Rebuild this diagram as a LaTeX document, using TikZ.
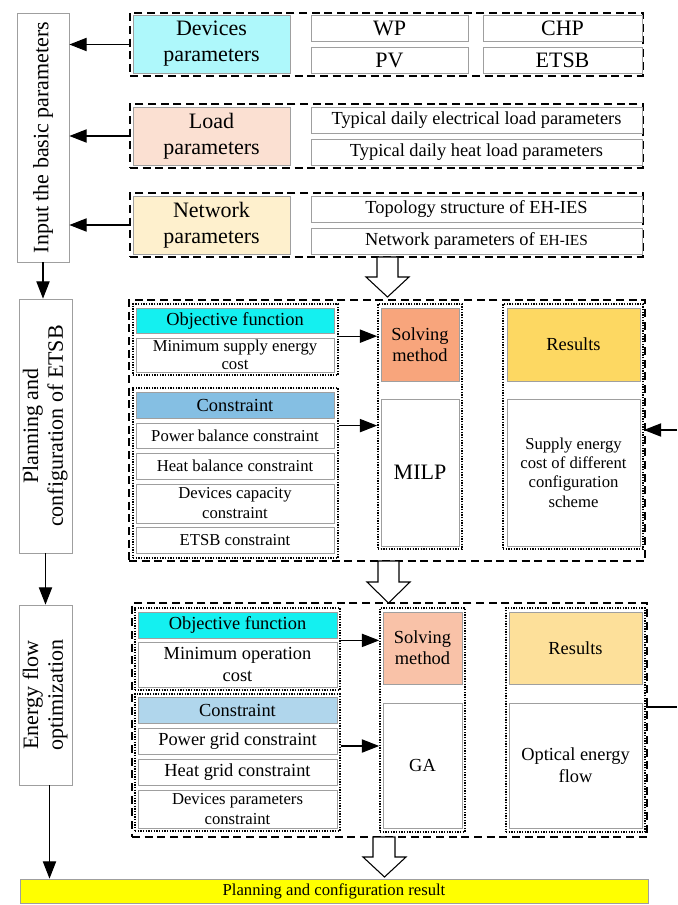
\documentclass[tikz,border=0pt]{standalone}
\usepackage{fontspec}
\usepackage{graphicx}
\setmainfont{Liberation Serif}
\usetikzlibrary{arrows.meta,calc}

\definecolor{devcol}{HTML}{AEF8FB}
\definecolor{loadcol}{HTML}{FBE0D2}
\definecolor{netcol}{HTML}{FEF0CD}
\definecolor{objcol}{HTML}{14F0F0}
\definecolor{conAcol}{HTML}{85BFE3}
\definecolor{conBcol}{HTML}{B0D6EC}
\definecolor{solAcol}{HTML}{F8A57C}
\definecolor{solBcol}{HTML}{F9C2A8}
\definecolor{resAcol}{HTML}{FDD862}
\definecolor{resBcol}{HTML}{FDE09A}
\definecolor{finalcol}{HTML}{FFFF00}

\newcommand\fbig{\fontsize{16.5}{19.5}\selectfont}
\newcommand\fmid{\fontsize{13.8}{16}\selectfont}
\newcommand\fsml{\fontsize{12.5}{14}\selectfont}

% box given by its corners in pixel units: name, style, x1, y1, x2, y2, text
\newcommand\mkbox[7]{%
  \node[#2, minimum width={(#5-#3)*0.75pt}, minimum height={(#6-#4)*0.75pt}]
    (#1) at ({(#3+#5)/2},{(#4+#6)/2}) {#7};}

\begin{document}
\begin{tikzpicture}[x=0.75pt,y=-0.75pt,
  ibox/.style={draw=gray!75, line width=0.6pt, fill=white, inner sep=0pt, align=center, font=\fmid},
  grp/.style={draw=black, line width=1.4pt, dash pattern=on 6pt off 3.5pt, inner sep=0pt},
  dgrp/.style={draw=black, line width=1.3pt, dash pattern=on 1.1pt off 0.9pt, inner sep=0pt},
  arr/.style={-{Triangle[length=13pt,width=10pt]}, line width=0.8pt},
  blk/.style={draw=black, line width=0.8pt, fill=white, line join=miter}]

\useasboundingbox (0,0) rectangle (677,905);

% ---------- left column of stages ----------
\mkbox{in1}{ibox}{17}{13}{69}{262}{\rotatebox{90}{\fbig Input the basic parameters}}
\mkbox{pc1}{ibox}{19}{299}{72}{553}{\rotatebox{90}{\fbig\renewcommand\arraystretch{0.95}\begin{tabular}{@{}c@{}}Planning and\\configuration of ETSB\end{tabular}}}
\mkbox{eo1}{ibox}{19}{605}{72}{785}{\rotatebox{90}{\fbig\renewcommand\arraystretch{0.95}\begin{tabular}{@{}c@{}}Energy flow\\optimization\end{tabular}}}
\mkbox{res}{ibox, fill=finalcol, font=\fsml}{20}{879}{648}{903}{Planning and configuration result}

\draw[arr] (in1.south) -- (in1.south |- pc1.north);
\draw[arr] (pc1.south) -- (pc1.south |- eo1.north);
\draw[arr] ([xshift=3pt]eo1.south) -- ([xshift=3pt]eo1.south |- res.north);

% ---------- basic parameters ----------
\mkbox{g1}{grp}{130}{13}{643}{76}{}
\mkbox{devp}{ibox, fill=devcol, font=\fbig}{133}{15}{290}{73}{Devices\\parameters}
\mkbox{wp}{ibox, font=\fbig}{311}{15}{468}{41}{WP}
\mkbox{pv}{ibox, font=\fbig}{311}{47}{468}{73}{PV}
\mkbox{chp}{ibox, font=\fbig}{483}{15}{642}{41}{CHP}
\mkbox{etsb}{ibox, font=\fbig}{483}{47}{642}{73}{ETSB}

\mkbox{g2}{grp}{130}{104}{643}{168}{}
\mkbox{loadp}{ibox, fill=loadcol, font=\fbig}{133}{107}{290}{165}{Load\\parameters}
\mkbox{elp}{ibox}{311}{107}{642}{133}{Typical daily electrical load parameters}
\mkbox{hlp}{ibox}{311}{139}{642}{165}{Typical daily heat load parameters}

\mkbox{g3}{grp}{130}{193}{643}{257}{}
\mkbox{netp}{ibox, fill=netcol, font=\fbig}{133}{196}{290}{254}{Network\\parameters}
\mkbox{topo}{ibox}{311}{196}{642}{222}{Topology structure of EH-IES}
\mkbox{netw}{ibox}{311}{228}{642}{254}{Network parameters of {\fontsize{11.5}{12}\selectfont EH-IES}}

\draw[arr] (g1.west) -- (g1.west -| in1.east);
\draw[arr] (g2.west) -- (g2.west -| in1.east);
\draw[arr] (g3.west) -- (g3.west -| in1.east);

% hollow arrow into the planning stage
\draw[blk] (377,257) -- (398,257) -- (398,277) -- (409,277) -- (387.5,297) -- (366,277) -- (377,277) -- cycle;

% ---------- planning and configuration ----------
\mkbox{g4}{grp}{129}{300}{645}{561}{}
\mkbox{ofAg}{dgrp}{133}{304}{338}{375}{}
\mkbox{ofA}{ibox, fill=objcol}{136}{308}{334}{333}{Objective function}
\mkbox{msc}{ibox, font=\fontsize{12.5}{13.5}\selectfont}{136}{338}{334}{372}{Minimum supply energy\\cost}

\mkbox{csAg}{dgrp}{133}{388}{338}{558}{}
\mkbox{csA}{ibox, fill=conAcol}{136}{392}{334}{418}{Constraint}
\mkbox{pbc}{ibox, font=\fsml}{136}{423}{334}{448}{Power balance constraint}
\mkbox{hbc}{ibox, font=\fsml}{136}{453}{334}{479}{Heat balance constraint}
\mkbox{dcc}{ibox, font=\fontsize{12.5}{15}\selectfont}{136}{484}{334}{523}{Devices capacity\\constraint}
\mkbox{etc}{ibox, font=\fsml}{136}{527}{334}{553}{ETSB constraint}

\mkbox{smAg}{dgrp}{378}{304}{462}{549}{}
\mkbox{smA}{ibox, fill=solAcol, font=\fontsize{13.8}{15.5}\selectfont}{381}{308}{459}{381}{Solving\\method}
\mkbox{milp}{ibox, font=\fbig}{381}{399}{459}{546}{MILP}

\mkbox{rsAg}{dgrp}{503}{304}{643}{549}{}
\mkbox{rsA}{ibox, fill=resAcol}{507}{308}{640}{381}{Results}
\mkbox{sec}{ibox, font=\fontsize{12.5}{14.6}\selectfont}{507}{399}{640}{546}{Supply energy\\cost of different\\configuration\\scheme}

\draw[arr] ([yshift=2.5pt]ofAg.east) -- ([yshift=2.5pt]ofAg.east -| smAg.west);
\draw[arr] ($(csAg.east |- pbc.north)+(0,3)$) -- ($(smAg.west |- pbc.north)+(0,3)$);

% hollow arrow into the energy flow stage
\draw[blk] (378,561) -- (399,561) -- (399,582) -- (410,582) -- (388.5,603) -- (367,582) -- (378,582) -- cycle;

% ---------- energy flow optimization ----------
\mkbox{g5}{grp}{132}{603}{647}{837}{}
\mkbox{ofBg}{dgrp}{135}{608}{340}{690}{}
\mkbox{ofB}{ibox, fill=objcol}{138}{612}{337}{638}{Objective function}
\mkbox{moc}{ibox, font=\fontsize{13.8}{16.5}\selectfont}{138}{642}{337}{687}{Minimum operation\\cost}

\mkbox{csBg}{dgrp}{135}{694}{340}{831}{}
\mkbox{csB}{ibox, fill=conBcol}{138}{697}{337}{723}{Constraint}
\mkbox{pgc}{ibox}{138}{728}{337}{754}{Power grid constraint}
\mkbox{hgc}{ibox}{138}{759}{337}{785}{Heat grid constraint}
\mkbox{dpc}{ibox, font=\fontsize{12.5}{15}\selectfont}{138}{790}{337}{828}{Devices parameters\\constraint}

\mkbox{smBg}{dgrp}{380}{608}{465}{832}{}
\mkbox{smB}{ibox, fill=solBcol, font=\fontsize{13.8}{15.5}\selectfont}{383}{612}{462}{684}{Solving\\method}
\mkbox{ga}{ibox}{383}{703}{462}{828}{GA}

\mkbox{rsBg}{dgrp}{506}{608}{645}{832}{}
\mkbox{rsB}{ibox, fill=resBcol}{509}{612}{642}{684}{Results}
\mkbox{oef}{ibox, font=\fontsize{13.8}{16.3}\selectfont}{509}{703}{642}{828}{Optical energy\\flow}

\draw[arr] ($(ofBg.east |- ofB.south)+(0,2)$) -- ($(smBg.west |- ofB.south)+(0,2)$);
\draw[arr] ($(csBg.east |- pgc.center)+(0,5)$) -- ($(smBg.west |- pgc.center)+(0,5)$);

% feedback from the energy flow results to the configuration results
\coordinate (edgeA) at (677,430);
\coordinate (edgeB) at (677,707);
\draw[arr] (edgeA) -- (edgeA -| rsAg.east);
\draw[line width=0.8pt] (rsBg.east |- edgeB) -- (edgeB);

% hollow arrow into the final result
\draw[blk] (373,837) -- (395,837) -- (395,857) -- (406,857) -- (384.5,877) -- (363,857) -- (373,857) -- cycle;

\end{tikzpicture}
\end{document}
